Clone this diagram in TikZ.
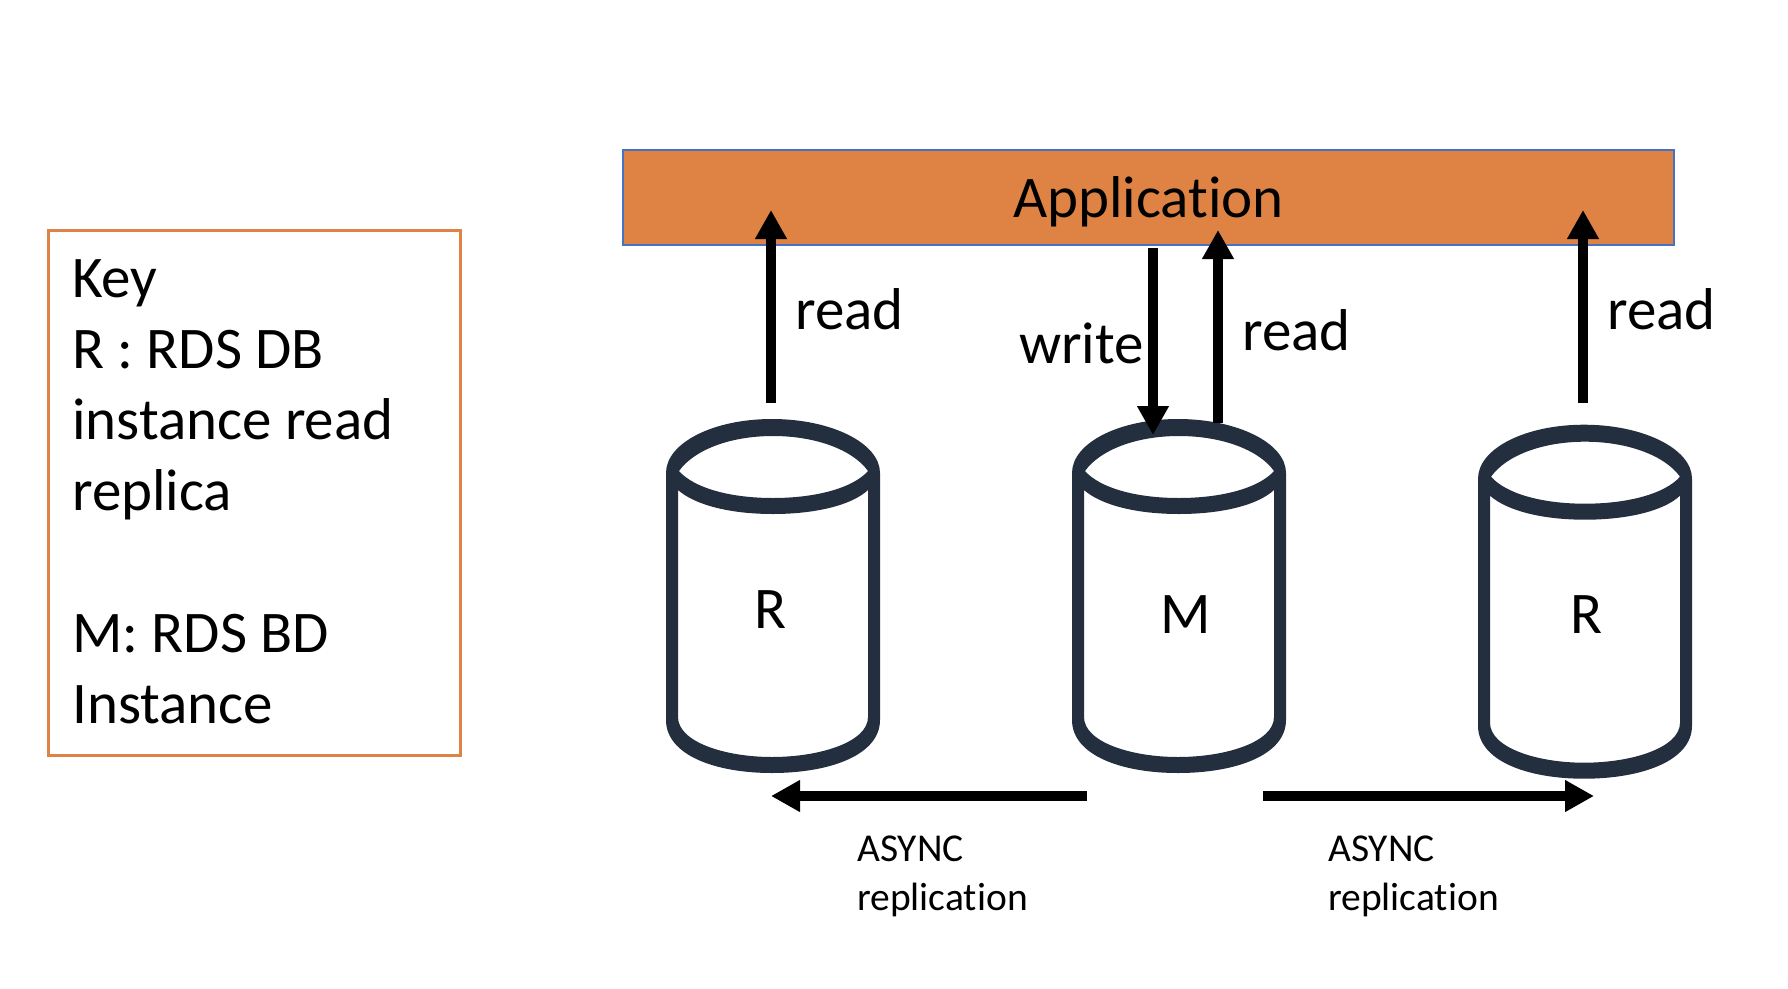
\documentclass[tikz,border=0pt]{standalone}
\usepackage{fontspec}
\setmainfont{Carlito}[Ligatures=CommonOff]
\usetikzlibrary{arrows.meta}
\definecolor{cyl}{HTML}{232F3E}
\definecolor{appfill}{HTML}{DE8344}
\definecolor{appline}{HTML}{4472C4}
\tikzset{
  big/.style={font=\fontsize{59}{71}\selectfont,inner sep=0pt,text=black},
  small/.style={font=\fontsize{39.5}{49}\selectfont,inner sep=0pt,text=black,align=left},
  flow/.style={line width=10pt,draw=black,-{Triangle[length=29pt,width=30pt]}},
  database/.pic={
    \fill[cyl,even odd rule]
      (666,720) -- (666,473) .. controls (666,443) and (713,419) .. (772,419)
        .. controls (831,419) and (880,443) .. (880,473) -- (880,720)
        .. controls (880,755) and (830,773) .. (772,773)
        .. controls (715,773) and (666,755) .. (666,720) -- cycle
      (679,471) .. controls (694,450) and (730,436) .. (773,436)
        .. controls (816,436) and (853,450) .. (868,471)
        .. controls (853,488) and (816,498) .. (773,498)
        .. controls (730,498) and (694,488) .. (679,471) -- cycle
      (678,490) .. controls (695,505) and (730,514) .. (773,514)
        .. controls (816,514) and (852,505) .. (868,490) -- (868,717)
        .. controls (868,742) and (820,757) .. (772,757)
        .. controls (725,757) and (678,742) .. (678,717) -- cycle;
  }
}
\begin{document}
\begin{tikzpicture}[x=1pt,y=-1pt]
\useasboundingbox (0,0) rectangle (1788,988);
\node[draw=appline,fill=appfill,line width=1.6pt,minimum width=1051pt,minimum height=95pt,inner sep=0pt,anchor=north west] (app) at (622,149) {};
\node[big,anchor=base] (apptext) at (1148.5,217) {Application};
\node[draw=appfill,line width=3pt,minimum width=412pt,minimum height=525pt,inner sep=0pt,anchor=north west] (key) at (47,229) {};
\node[big,anchor=north west,align=left] (keytext) at (72,259) {Key\\R : RDS DB\\instance read\\replica\\[71pt]M: RDS BD\\Instance};
\pic (c1) at (0,0) {database};
\pic (c2) at (406,0) {database};
\pic (c3) at (812,5.7) {database};
\node[big,anchor=base] (r1) at (771,628) {R};
\node[big,anchor=base] (m) at (1186,633) {M};
\node[big,anchor=base] (r3) at (1586,633) {R};
\node[big,anchor=base west] (read1) at (795,329) {read};
\node[big,anchor=base west] (write) at (1019,363) {write};
\node[big,anchor=base west] (read2) at (1242,350) {read};
\node[big,anchor=base west] (read3) at (1607,329) {read};
\node[small,anchor=north west] (async1) at (857,836) {ASYNC\\replication};
\node[small,anchor=north west] (async2) at (1328,836) {ASYNC\\replication};
\coordinate (a1s) at (771,403); \coordinate (a1e) at (771,210);
\coordinate (a2s) at (1153,248); \coordinate (a2e) at (1153,435);
\coordinate (a3s) at (1218,423); \coordinate (a3e) at (1218,230);
\coordinate (a4s) at (1583,403); \coordinate (a4e) at (1583,210);
\coordinate (a5s) at (1087,796); \coordinate (a5e) at (771,796);
\coordinate (a6s) at (1263,796); \coordinate (a6e) at (1594,796);
\draw[flow] (a1s) -- (a1e);
\draw[flow] (a2s) -- (a2e);
\draw[flow] (a3s) -- (a3e);
\draw[flow] (a4s) -- (a4e);
\draw[flow] (a5s) -- (a5e);
\draw[flow] (a6s) -- (a6e);
\end{tikzpicture}
\end{document}
